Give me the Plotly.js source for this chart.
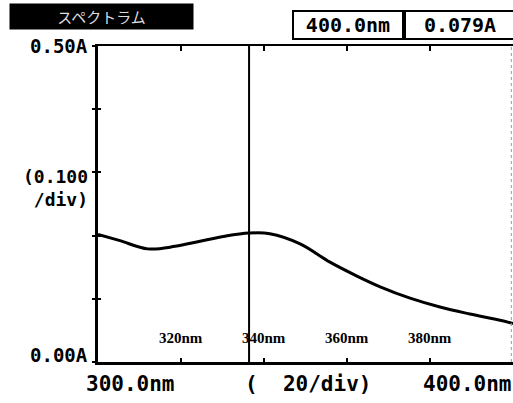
<!DOCTYPE html>
<html>
<head>
<meta charset="utf-8">
<script src="https://cdn.plot.ly/plotly-3.0.1.min.js"></script>
<style>html,body{margin:0;padding:0;background:#fff;}#chart{width:513px;height:403px;}</style>
</head>
<body>
<div id="chart"></div>
<script>
// Absorbance spectrum (nm vs A)
const wavelengthNm = [300, 305.3, 312.0, 318.6, 324.6, 330.6, 336.4, 341.4, 348.7, 355.9, 362.4, 368.0, 375.2, 382.4, 389.6, 396.9, 400];
const absorbance   = [0.202, 0.192, 0.179, 0.183, 0.191, 0.199, 0.204, 0.203, 0.187, 0.158, 0.136, 0.119, 0.101, 0.087, 0.076, 0.066, 0.061];
const cursorNm = 336.4;
const markerLabelsNm = [320, 340, 360, 380];
const markerLabels = ["320nm", "340nm", "360nm", "380nm"];
const titleText = "スペクトラム";
const readoutWavelength = "400.0nm";
const readoutAbs = "0.079A";
const yTopLabel = "0.50A", yBottomLabel = "0.00A", yDivLabel = ["(0.100", "/div)"];
const xLeftLabel = "300.0nm", xMidLabel = "(  20/div)", xRightLabel = "400.0nm";

const mono = {family: "DejaVu Sans Mono", color: "#000", weight: "bold"};
const px = (x) => (x - 98) / 415;
const py = (y) => (362 - y) / 316;

function lab(x, y, text, size, xanchor, extra) {
  return Object.assign({xref: "paper", yref: "paper", x: px(x), y: py(y), text: text, showarrow: false,
    xanchor: xanchor, yanchor: "middle", font: Object.assign({size: size}, mono)}, extra || {});
}

const traces = [
  {x: wavelengthNm, y: absorbance, type: "scatter", mode: "lines", line: {color: "#000", width: 3, shape: "spline", smoothing: 1}, hoverinfo: "skip"},
  {x: [cursorNm, cursorNm], y: [0, 0.5], type: "scatter", mode: "lines", line: {color: "#000", width: 2}, hoverinfo: "skip"},
  {x: [300, 400], y: [0, 0.5], xaxis: "x2", yaxis: "y2", mode: "none", type: "scatter", hoverinfo: "skip"}
];

const annotations = [
  {xref: "paper", yref: "paper", x: px(101.5), y: py(17), xanchor: "center", yanchor: "middle", text: titleText, showarrow: false,
   bgcolor: "#000", width: 183, height: 25, borderpad: 0, font: {family: "Noto Sans CJK JP", size: 15, color: "#ddd"}},
  lab(348, 25, readoutWavelength, 20, "center", {bordercolor: "#000", borderwidth: 2, width: 108, height: 26, borderpad: 0}),
  lab(460, 25, readoutAbs, 20, "center", {bordercolor: "#000", borderwidth: 2, width: 108, height: 26, borderpad: 0}),
  lab(90, 46, yTopLabel, 19, "right"),
  lab(90, 188, yDivLabel.join("<br>"), 18, "right", {align: "right"}),
  lab(90, 355, yBottomLabel, 19, "right"),
  lab(84, 384, xLeftLabel, 21, "left"),
  lab(243, 384, xMidLabel, 21, "left"),
  lab(514, 384, xRightLabel, 21, "right")
];
markerLabelsNm.forEach((nm, i) => {
  annotations.push({xref: "x", yref: "paper", x: nm, y: py(338), xanchor: "center", yanchor: "middle", text: markerLabels[i], showarrow: false,
    font: {family: "Liberation Serif", size: 15, weight: "bold", color: "#000"}});
});

const layout = {
  width: 513, height: 403,
  margin: {l: 98, r: 0, t: 46, b: 41, pad: 0},
  paper_bgcolor: "#fff", plot_bgcolor: "#fff",
  showlegend: false,
  xaxis: {range: [300, 400], showgrid: false, zeroline: false, showline: true, linecolor: "#000", linewidth: 3,
          ticks: "inside", dtick: 20, tick0: 300, ticklen: 4, tickwidth: 2, tickcolor: "#000", showticklabels: false, fixedrange: true},
  xaxis2: {range: [300, 400], overlaying: "x", side: "top", showgrid: false, zeroline: false, showline: true, linecolor: "#000", linewidth: 2,
          ticks: "inside", dtick: 20, tick0: 300, ticklen: 5, tickwidth: 2, tickcolor: "#000", showticklabels: false, fixedrange: true},
  yaxis: {range: [0, 0.5], showgrid: false, zeroline: false, showline: true, linecolor: "#000", linewidth: 3,
          ticks: "outside", dtick: 0.1, ticklen: 3, tickwidth: 2, tickcolor: "#000", showticklabels: false, fixedrange: true},
  yaxis2: {range: [0, 0.5], overlaying: "y", side: "left", showgrid: false, zeroline: false, showline: false,
          ticks: "inside", dtick: 0.1, ticklen: 3, tickwidth: 2, tickcolor: "#000", showticklabels: false, fixedrange: true},
  shapes: [
    {type: "line", xref: "paper", yref: "paper", x0: 0.996, x1: 0.996, y0: 0, y1: 1, line: {color: "#999", width: 1, dash: "dot"}}
  ],
  annotations: annotations
};

Plotly.newPlot("chart", traces, layout, {staticPlot: true, displayModeBar: false});
</script>
</body>
</html>
